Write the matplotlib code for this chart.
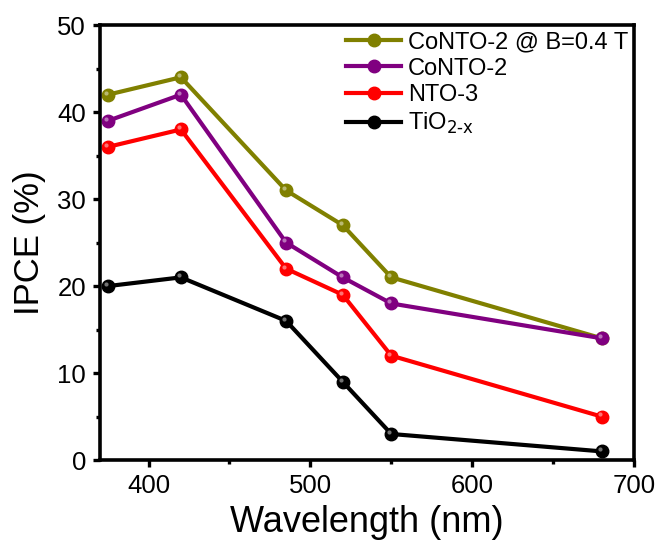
import matplotlib
matplotlib.use('Agg')
import matplotlib.pyplot as plt
import matplotlib.transforms as mtransforms
from matplotlib.ticker import MultipleLocator

plt.rcParams['font.family'] = ['Liberation Sans', 'DejaVu Sans']

wavelength = [375, 420, 485, 520, 550, 680]
conto2_b = [42, 44, 31, 27, 21, 14]
conto2 = [39, 42, 25, 21, 18, 14]
nto3 = [36, 38, 22, 19, 12, 5]
tio2 = [20, 21, 16, 9, 3, 1]

series = [
    ('CoNTO-2 @ B=0.4 T', conto2_b, '#808000'),
    ('CoNTO-2', conto2, '#800080'),
    ('NTO-3', nto3, '#ff0000'),
    (r'TiO$_{\text{2-x}}$', tio2, 'black'),
]

fig = plt.figure(figsize=(6.57, 5.4), dpi=100)
ax = fig.add_axes([0.1522, 0.148, 0.8128, 0.8056])

# small glossy highlight on the markers
shift = mtransforms.ScaledTranslation(-1.5 / 72, 1.5 / 72, fig.dpi_scale_trans)
for label, vals, color in series:
    ax.plot(wavelength, vals, color=color, lw=3, marker='o', ms=9,
            mec=color, mfc=color, label=label)
    ax.plot(wavelength, vals, ls='none', marker='o', ms=3, mew=0,
            mfc='white', alpha=0.45, transform=ax.transData + shift)

ax.set_xlim(370, 700)
ax.set_ylim(0, 50)
ax.xaxis.set_major_locator(MultipleLocator(100))
ax.xaxis.set_minor_locator(MultipleLocator(50))
ax.yaxis.set_major_locator(MultipleLocator(10))
ax.yaxis.set_minor_locator(MultipleLocator(5))
ax.tick_params(which='both', direction='out', width=2.4, labelsize=18.5, pad=5)
ax.tick_params(which='major', length=5)
ax.tick_params(which='minor', length=3)
for s in ax.spines.values():
    s.set_linewidth(2.6)

ax.set_xlabel('Wavelength (nm)', fontsize=26, labelpad=5)
ax.set_ylabel('IPCE (%)', fontsize=25, labelpad=8)

ax.legend(loc='upper right', frameon=False, fontsize=17, handlelength=2.3,
          handletextpad=0.3, labelspacing=0.2, borderaxespad=0.15,
          borderpad=0.1)

fig.savefig('out.png', dpi=100)
